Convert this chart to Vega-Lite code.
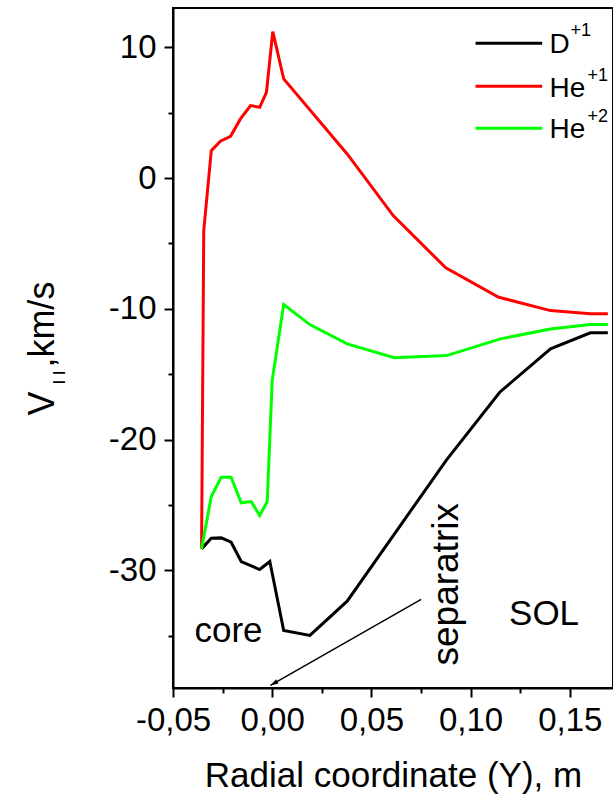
{
  "$schema": "https://vega.github.io/schema/vega-lite/v6.json",
  "width": 440,
  "height": 680,
  "autosize": {"type": "none"},
  "padding": {"left": 173, "top": 8, "right": 0, "bottom": 112},
  "background": "white",
  "config": {
    "font": "Liberation Sans",
    "view": {"stroke": "black", "strokeWidth": 2},
    "axis": {
      "grid": false,
      "domainColor": "black",
      "domainWidth": 2,
      "tickColor": "black",
      "tickWidth": 2,
      "labelColor": "black",
      "labelFont": "Liberation Sans",
      "labelFontSize": 33,
      "labelOverlap": false,
      "labelBound": false,
      "labelFlush": false,
      "titleColor": "black",
      "titleFont": "Liberation Sans",
      "titleFontWeight": "normal"
    }
  },
  "datasets": {
    "curves": [
      {"ion": "D+1", "x": -0.0356, "y": -28.36},
      {"ion": "D+1", "x": -0.0307, "y": -27.55},
      {"ion": "D+1", "x": -0.0257, "y": -27.52},
      {"ion": "D+1", "x": -0.0207, "y": -27.85},
      {"ion": "D+1", "x": -0.0156, "y": -29.33},
      {"ion": "D+1", "x": -0.0063, "y": -29.94},
      {"ion": "D+1", "x": -0.0012, "y": -29.33},
      {"ion": "D+1", "x": 0.0058, "y": -34.6},
      {"ion": "D+1", "x": 0.019, "y": -34.98},
      {"ion": "D+1", "x": 0.0378, "y": -32.36},
      {"ion": "D+1", "x": 0.0879, "y": -21.55},
      {"ion": "D+1", "x": 0.1147, "y": -16.38},
      {"ion": "D+1", "x": 0.1403, "y": -13.07},
      {"ion": "D+1", "x": 0.1604, "y": -11.84},
      {"ion": "D+1", "x": 0.1692, "y": -11.84},

      {"ion": "He+1", "x": -0.0356, "y": -28.36},
      {"ion": "He+1", "x": -0.0345, "y": -4.02},
      {"ion": "He+1", "x": -0.0307, "y": 2.09},
      {"ion": "He+1", "x": -0.0261, "y": 2.81},
      {"ion": "He+1", "x": -0.021, "y": 3.19},
      {"ion": "He+1", "x": -0.016, "y": 4.52},
      {"ion": "He+1", "x": -0.0109, "y": 5.54},
      {"ion": "He+1", "x": -0.0063, "y": 5.41},
      {"ion": "He+1", "x": -0.0029, "y": 6.55},
      {"ion": "He+1", "x": 0.0003, "y": 11.19},
      {"ion": "He+1", "x": 0.0058, "y": 7.58},
      {"ion": "He+1", "x": 0.0378, "y": 1.84},
      {"ion": "He+1", "x": 0.061, "y": -2.87},
      {"ion": "He+1", "x": 0.0875, "y": -6.87},
      {"ion": "He+1", "x": 0.1142, "y": -9.12},
      {"ion": "He+1", "x": 0.1403, "y": -10.14},
      {"ion": "He+1", "x": 0.1604, "y": -10.39},
      {"ion": "He+1", "x": 0.1692, "y": -10.39},

      {"ion": "He+2", "x": -0.0356, "y": -28.36},
      {"ion": "He+2", "x": -0.0307, "y": -24.36},
      {"ion": "He+2", "x": -0.0257, "y": -22.88},
      {"ion": "He+2", "x": -0.0207, "y": -22.88},
      {"ion": "He+2", "x": -0.0156, "y": -24.84},
      {"ion": "He+2", "x": -0.0106, "y": -24.74},
      {"ion": "He+2", "x": -0.0063, "y": -25.81},
      {"ion": "He+2", "x": -0.0025, "y": -24.74},
      {"ion": "He+2", "x": 0.0, "y": -15.49},
      {"ion": "He+2", "x": 0.0058, "y": -9.68},
      {"ion": "He+2", "x": 0.019, "y": -11.21},
      {"ion": "He+2", "x": 0.0378, "y": -12.68},
      {"ion": "He+2", "x": 0.0616, "y": -13.75},
      {"ion": "He+2", "x": 0.0879, "y": -13.58},
      {"ion": "He+2", "x": 0.1151, "y": -12.3},
      {"ion": "He+2", "x": 0.1403, "y": -11.54},
      {"ion": "He+2", "x": 0.1604, "y": -11.21},
      {"ion": "He+2", "x": 0.1692, "y": -11.21}
    ],
    "legendLines": [
      {"ion": "D+1", "x": 0.1025, "x2": 0.1361, "y": 10.3},
      {"ion": "He+1", "x": 0.1025, "x2": 0.1361, "y": 7.01},
      {"ion": "He+2", "x": 0.1025, "x2": 0.1361, "y": 3.8}
    ],
    "legendNames": [
      {"text": "D", "x": 0.1398, "y": 9.53},
      {"text": "He", "x": 0.1398, "y": 6.17},
      {"text": "He", "x": 0.1398, "y": 3.07}
    ],
    "legendCharges": [
      {"text": "+1", "x": 0.1504, "y": 10.83},
      {"text": "+1", "x": 0.1589, "y": 7.45},
      {"text": "+2", "x": 0.1589, "y": 4.26}
    ],
    "regions": [
      {"text": "core", "x": -0.0392, "y": -35.5},
      {"text": "SOL", "x": 0.1194, "y": -34.22}
    ],
    "separatrixLabel": [
      {"text": "separatrix", "x": 0.0939, "y": -37.28}
    ],
    "pointer": [
      {"x": 0.0751, "y": -32.23, "x2": -0.0009, "y2": -38.8}
    ],
    "pointerTip": [
      {"x": -0.0009, "y": -38.8}
    ],
    "titleMain": [
      {"text": "V", "x": -0.1102, "y": -18.17}
    ],
    "titleSub": [
      {"text": "I I", "x": -0.1042, "y": -15.8}
    ],
    "titleUnit": [
      {"text": ",km/s", "x": -0.1102, "y": -14.5}
    ]
  },
  "encoding": {
    "x": {
      "field": "x",
      "type": "quantitative",
      "scale": {"domain": [-0.05, 0.1718], "nice": false, "zero": false},
      "axis": {
        "values": [-0.05, -0.025, 0, 0.025, 0.05, 0.075, 0.1, 0.125, 0.15],
        "labelExpr": "abs(datum.value * 20 - round(datum.value * 20)) > 0.01 ? '' : (datum.value < -0.0001 ? '-' : '') + replace(format(abs(datum.value), '.2f'), '.', ',')",
        "tickSize": {"condition": {"test": "abs(datum.value * 20 - round(datum.value * 20)) > 0.01", "value": 5}, "value": 9},
        "labelPadding": 7,
        "title": "Radial coordinate (Y), m",
        "titleFontSize": 35,
        "titlePadding": 21
      }
    },
    "y": {
      "field": "y",
      "type": "quantitative",
      "scale": {"domain": [-39, 13], "nice": false, "zero": false},
      "axis": {
        "values": [-35, -30, -25, -20, -15, -10, -5, 0, 5, 10],
        "labelExpr": "datum.value % 10 != 0 ? '' : (datum.value < 0 ? '-' : '') + format(abs(datum.value), 'd')",
        "tickSize": {"condition": {"test": "datum.value % 10 != 0", "value": 5}, "value": 9},
        "labelPadding": 8,
        "title": null
      }
    }
  },
  "layer": [
    {
      "data": {"name": "pointer"},
      "mark": {"type": "rule", "color": "black", "strokeWidth": 1.5},
      "encoding": {
        "x2": {"field": "x2"},
        "y2": {"field": "y2"}
      }
    },
    {
      "data": {"name": "pointerTip"},
      "mark": {
        "type": "point",
        "shape": "M0,0L0.6,2L-0.6,2Z",
        "filled": true,
        "color": "black",
        "opacity": 1,
        "size": 64,
        "angle": 240
      }
    },
    {
      "data": {"name": "curves"},
      "mark": {"type": "line", "strokeWidth": 3, "strokeJoin": "miter", "clip": true},
      "encoding": {
        "color": {
          "field": "ion",
          "type": "nominal",
          "scale": {"domain": ["D+1", "He+1", "He+2"], "range": ["#000000", "#ff0000", "#00ff00"]},
          "legend": null
        }
      }
    },
    {
      "data": {"name": "legendLines"},
      "mark": {"type": "rule", "strokeWidth": 3},
      "encoding": {
        "x2": {"field": "x2"},
        "color": {"field": "ion", "type": "nominal", "legend": null}
      }
    },
    {
      "data": {"name": "legendNames"},
      "mark": {"type": "text", "align": "left", "baseline": "alphabetic", "fontSize": 28, "color": "black"},
      "encoding": {"text": {"field": "text"}}
    },
    {
      "data": {"name": "legendCharges"},
      "mark": {"type": "text", "align": "left", "baseline": "alphabetic", "fontSize": 18, "color": "black"},
      "encoding": {"text": {"field": "text"}}
    },
    {
      "data": {"name": "regions"},
      "mark": {"type": "text", "align": "left", "baseline": "alphabetic", "fontSize": 35, "color": "black"},
      "encoding": {"text": {"field": "text"}}
    },
    {
      "data": {"name": "separatrixLabel"},
      "mark": {"type": "text", "align": "left", "baseline": "alphabetic", "angle": 270, "fontSize": 37, "color": "black"},
      "encoding": {"text": {"field": "text"}}
    },
    {
      "data": {"name": "titleMain"},
      "mark": {"type": "text", "align": "left", "baseline": "alphabetic", "angle": 270, "fontSize": 36, "color": "black"},
      "encoding": {"text": {"field": "text"}}
    },
    {
      "data": {"name": "titleSub"},
      "mark": {"type": "text", "align": "left", "baseline": "alphabetic", "angle": 270, "fontSize": 17, "color": "black"},
      "encoding": {"text": {"field": "text"}}
    },
    {
      "data": {"name": "titleUnit"},
      "mark": {"type": "text", "align": "left", "baseline": "alphabetic", "angle": 270, "fontSize": 36, "color": "black"},
      "encoding": {"text": {"field": "text"}}
    }
  ]
}
